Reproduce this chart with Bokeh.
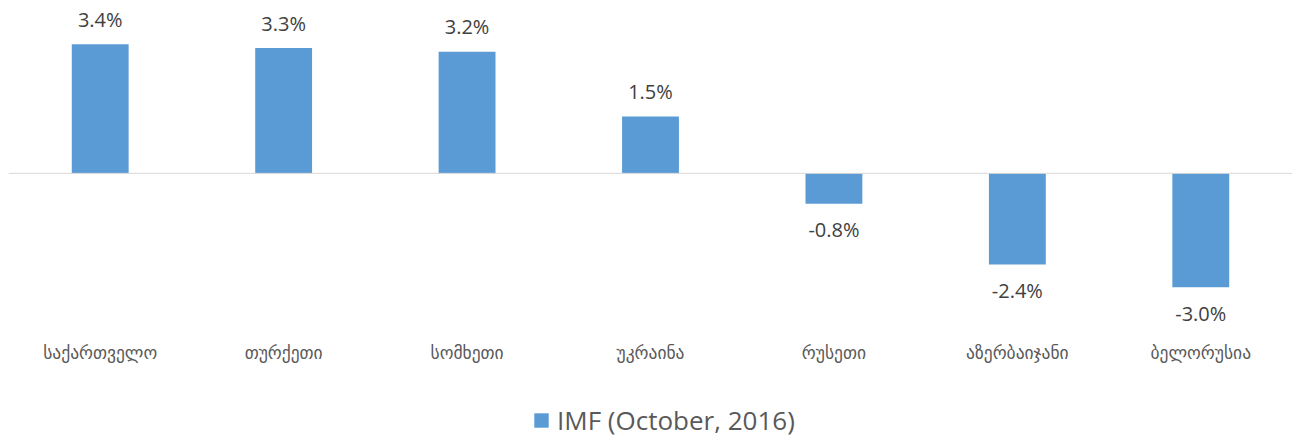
from bokeh.plotting import figure
from bokeh.models import ColumnDataSource, FactorRange, Range1d, Span, Legend, LegendItem
from bokeh.core.properties import value
from bokeh.embed import file_html
from bokeh.resources import INLINE

categories = ["საქართველო", "თურქეთი", "სომხეთი", "უკრაინა", "რუსეთი", "აზერბაიჯანი", "ბელორუსია"]
growth = [3.4, 3.3, 3.2, 1.5, -0.8, -2.4, -3.0]
series_name = "IMF (October, 2016)"

labels = [f"{v:.1f}%" for v in growth]
offsets = [-25 if v >= 0 else 26 for v in growth]

src = ColumnDataSource(dict(cat=categories, val=growth, lab=labels, off=offsets))

p = figure(width=1292, height=438, x_range=FactorRange(*categories),
           y_range=Range1d(-6.98, 4.34), output_backend="svg",
           toolbar_location=None, min_border=0, min_border_left=8, min_border_top=8)
p.axis.visible = False
p.grid.visible = False
p.outline_line_color = None
p.background_fill_color = "white"

p.add_layout(Span(location=0, dimension="width", line_color="#D9D9D9", line_width=1))

r = p.vbar(x="cat", top="val", bottom=0, width=0.31, source=src,
           fill_color="#5B9BD5", line_color=None)

p.text(x="cat", y="val", text="lab", y_offset="off", source=src,
       text_align="center", text_baseline="middle",
       text_font=value("Open Sans"), text_font_size="20px", text_color="#404040")

lab_src = ColumnDataSource(dict(cat=categories, y=[-4.74] * len(categories)))
p.text(x="cat", y="y", text="cat", source=lab_src,
       text_align="center", text_baseline="middle",
       text_font=value("DejaVu Sans"), text_font_size="17.5px", text_color="#595959")

legend = Legend(items=[LegendItem(label=series_name, renderers=[r])],
                location=(524, 0), orientation="horizontal",
                glyph_width=18, glyph_height=18, label_standoff=7,
                label_text_font="Open Sans", label_text_font_size="26px",
                label_text_color="#595959", padding=0, margin=0, spacing=0,
                border_line_alpha=0, background_fill_alpha=0)
p.add_layout(legend, "center")

open("out.html", "w").write(file_html(p, INLINE))
